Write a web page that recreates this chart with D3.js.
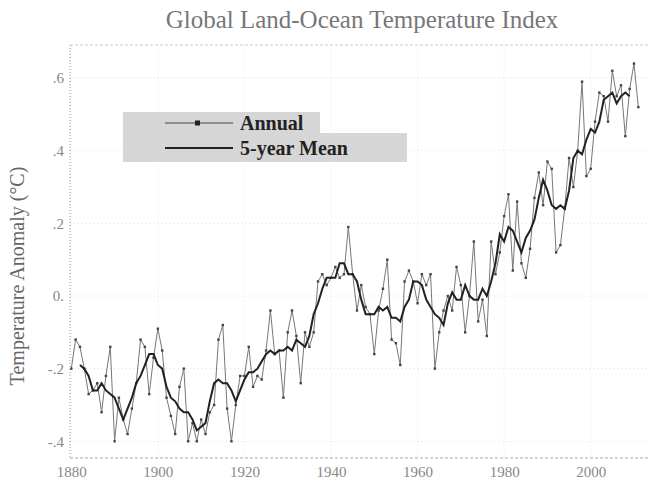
<!DOCTYPE html>
<html>
<head>
<meta charset="utf-8">
<script src="https://cdn.jsdelivr.net/npm/d3@7"></script>
<style>
  body { margin: 0; background: #fff; }
  svg { display: block; font-family: "Liberation Serif", "DejaVu Serif", serif; }
</style>
</head>
<body>
<div id="chart"></div>
<script>
// Annual mean anomaly (°C), 1880-2011
var startYear = 1880;
var annual = [
  -0.20, -0.12, -0.14, -0.20, -0.27, -0.26, -0.24, -0.32, -0.22, -0.14,
  -0.40, -0.28, -0.34, -0.38, -0.31, -0.24, -0.12, -0.14, -0.27, -0.17,
  -0.09, -0.15, -0.28, -0.33, -0.38, -0.25, -0.20, -0.40, -0.35, -0.40,
  -0.34, -0.38, -0.32, -0.30, -0.12, -0.08, -0.31, -0.40, -0.30, -0.22,
  -0.22, -0.14, -0.25, -0.22, -0.23, -0.15, -0.04, -0.16, -0.15, -0.28,
  -0.10, -0.04, -0.11, -0.24, -0.10, -0.14, -0.10, 0.04, 0.06, 0.03,
  0.05, 0.08, 0.05, 0.06, 0.19, 0.06, -0.04, 0.03, -0.03, -0.05,
  -0.16, -0.04, 0.02, 0.10, -0.12, -0.13, -0.19, 0.04, 0.07, 0.04,
  -0.02, 0.06, 0.03, 0.06, -0.20, -0.10, -0.04, 0.00, -0.04, 0.08,
  0.03, -0.10, 0.00, 0.15, -0.07, -0.01, -0.11, 0.15, 0.06, 0.12,
  0.22, 0.28, 0.07, 0.26, 0.09, 0.05, 0.13, 0.27, 0.34, 0.25,
  0.37, 0.35, 0.12, 0.14, 0.24, 0.38, 0.30, 0.40, 0.59, 0.33,
  0.35, 0.48, 0.56, 0.55, 0.48, 0.62, 0.55, 0.58, 0.44, 0.57,
  0.64, 0.52
];

// 5-year running mean (°C), 1882-2009
var meanStart = 1882;
var fiveYear = [
  -0.19, -0.20, -0.22, -0.26, -0.26, -0.24, -0.26, -0.27, -0.28, -0.31,
  -0.34, -0.31, -0.28, -0.24, -0.22, -0.19, -0.16, -0.16, -0.19, -0.20,
  -0.25, -0.28, -0.29, -0.31, -0.32, -0.32, -0.34, -0.37, -0.36, -0.35,
  -0.29, -0.24, -0.23, -0.24, -0.24, -0.26, -0.29, -0.26, -0.23, -0.21,
  -0.21, -0.20, -0.18, -0.16, -0.15, -0.16, -0.15, -0.15, -0.14, -0.15,
  -0.12, -0.13, -0.14, -0.11, -0.05, -0.02, 0.02, 0.05, 0.05, 0.05,
  0.09, 0.09, 0.06, 0.06, 0.04, -0.01, -0.05, -0.05, -0.05, -0.03,
  -0.04, -0.03, -0.06, -0.06, -0.07, -0.03, -0.01, 0.04, 0.04, 0.03,
  -0.01, -0.03, -0.05, -0.06, -0.08, -0.02, 0.01, -0.01, -0.01, 0.03,
  0.00, -0.01, -0.01, 0.02, 0.00, 0.04, 0.09, 0.17, 0.15, 0.19,
  0.18, 0.15, 0.12, 0.16, 0.18, 0.21, 0.27, 0.32, 0.29, 0.25,
  0.24, 0.25, 0.24, 0.29, 0.38, 0.40, 0.39, 0.43, 0.46, 0.45,
  0.48, 0.54, 0.55, 0.56, 0.53, 0.55, 0.56, 0.55
];

var yearTicks = [1880, 1900, 1920, 1940, 1960, 1980, 2000];
var tempTicks = [-0.4, -0.2, 0, 0.2, 0.4, 0.6];
var tempLabels = ["-.4", "-.2", "0.", ".2", ".4", ".6"];
var legendLabels = ["Annual", "5-year Mean"];

var W = 653, H = 484;
var margin = {top: 45, right: 3, bottom: 26, left: 70};

var svg = d3.select("#chart").append("svg")
    .attr("width", W)
    .attr("height", H);

var x = d3.scaleLinear().domain([1879.7, 2013.7]).range([margin.left, W - margin.right]);
var y = d3.scaleLinear().domain([-0.446, 0.691]).range([H - margin.bottom, margin.top]);

var annualData = annual.map(function(v, i) { return {year: startYear + i, value: v}; });
var meanData = fiveYear.map(function(v, i) { return {year: meanStart + i, value: v}; });

// gridlines
svg.append("g")
    .selectAll("line")
    .data(tempTicks)
    .enter().append("line")
    .attr("x1", margin.left).attr("x2", W - margin.right)
    .attr("y1", function(d) { return y(d); }).attr("y2", function(d) { return y(d); })
    .attr("stroke", "#ddd").attr("stroke-dasharray", "1,3");

svg.append("g")
    .selectAll("line")
    .data(yearTicks)
    .enter().append("line")
    .attr("x1", function(d) { return x(d); }).attr("x2", function(d) { return x(d); })
    .attr("y1", margin.top).attr("y2", H - margin.bottom)
    .attr("stroke", "#e4e4e4").attr("stroke-dasharray", "1,3");

// frame: top and bottom dashed, left dotted
svg.append("line")
    .attr("x1", margin.left).attr("x2", W - margin.right)
    .attr("y1", margin.top).attr("y2", margin.top)
    .attr("stroke", "#ccc").attr("stroke-dasharray", "3,2");
svg.append("line")
    .attr("x1", margin.left).attr("x2", W - margin.right)
    .attr("y1", H - margin.bottom).attr("y2", H - margin.bottom)
    .attr("stroke", "#aaa").attr("stroke-dasharray", "3,2");
svg.append("line")
    .attr("x1", margin.left).attr("x2", margin.left)
    .attr("y1", margin.top).attr("y2", H - margin.bottom)
    .attr("stroke", "#999").attr("stroke-dasharray", "1,2");

// axes (labels only)
var xAxis = d3.axisBottom(x).tickValues(yearTicks).tickFormat(d3.format("d")).tickSize(0).tickPadding(8);
var gx = svg.append("g")
    .attr("transform", "translate(0," + (H - margin.bottom) + ")")
    .call(xAxis);
gx.select(".domain").remove();
gx.selectAll("text")
    .attr("font-family", "Liberation Serif, serif")
    .attr("font-size", 15)
    .attr("fill", "#888");

var yAxis = d3.axisLeft(y).tickValues(tempTicks)
    .tickFormat(function(d, i) { return tempLabels[i]; })
    .tickSize(0).tickPadding(6);
var gy = svg.append("g")
    .attr("transform", "translate(" + margin.left + ",0)")
    .call(yAxis);
gy.select(".domain").remove();
gy.selectAll("text")
    .attr("font-family", "Liberation Serif, serif")
    .attr("font-size", 15)
    .attr("fill", "#888");

// series
var line = d3.line()
    .x(function(d) { return x(d.year); })
    .y(function(d) { return y(d.value); });

svg.append("path")
    .datum(annualData)
    .attr("fill", "none")
    .attr("stroke", "#777")
    .attr("stroke-width", 1)
    .attr("d", line);

svg.append("g")
    .selectAll("rect")
    .data(annualData)
    .enter().append("rect")
    .attr("x", function(d) { return x(d.year) - 1.2; })
    .attr("y", function(d) { return y(d.value) - 1.2; })
    .attr("width", 2.4).attr("height", 2.4)
    .attr("fill", "#444");

svg.append("path")
    .datum(meanData)
    .attr("fill", "none")
    .attr("stroke", "#222")
    .attr("stroke-width", 2)
    .attr("d", line);

// legend
var legend = svg.append("g");
var rowY = [112, 133];
var rowH = [21, 29];
var rowW = [197, 284];
legendLabels.forEach(function(label, i) {
  legend.append("rect")
      .attr("x", 123).attr("y", rowY[i])
      .attr("width", rowW[i]).attr("height", rowH[i])
      .attr("fill", "#d6d6d6");
  var ly = i === 0 ? 123 : 148;
  legend.append("line")
      .attr("x1", 165).attr("x2", 233)
      .attr("y1", ly).attr("y2", ly)
      .attr("stroke", i === 0 ? "#444" : "#222")
      .attr("stroke-width", i === 0 ? 1 : 2);
  if (i === 0) {
    legend.append("rect")
        .attr("x", 195).attr("y", ly - 2.5)
        .attr("width", 5).attr("height", 5)
        .attr("fill", "#222");
  }
  legend.append("text")
      .attr("x", 240).attr("y", ly + 7)
      .attr("font-size", 20)
      .attr("font-weight", "bold")
      .attr("fill", "#222")
      .text(label);
});

// titles
svg.append("text")
    .attr("x", 362).attr("y", 28)
    .attr("text-anchor", "middle")
    .attr("font-size", 25)
    .attr("fill", "#777")
    .text("Global Land-Ocean Temperature Index");

svg.append("text")
    .attr("transform", "translate(24,276) rotate(-90)")
    .attr("text-anchor", "middle")
    .attr("font-size", 20)
    .attr("fill", "#666")
    .text("Temperature Anomaly (°C)");
</script>
</body>
</html>
